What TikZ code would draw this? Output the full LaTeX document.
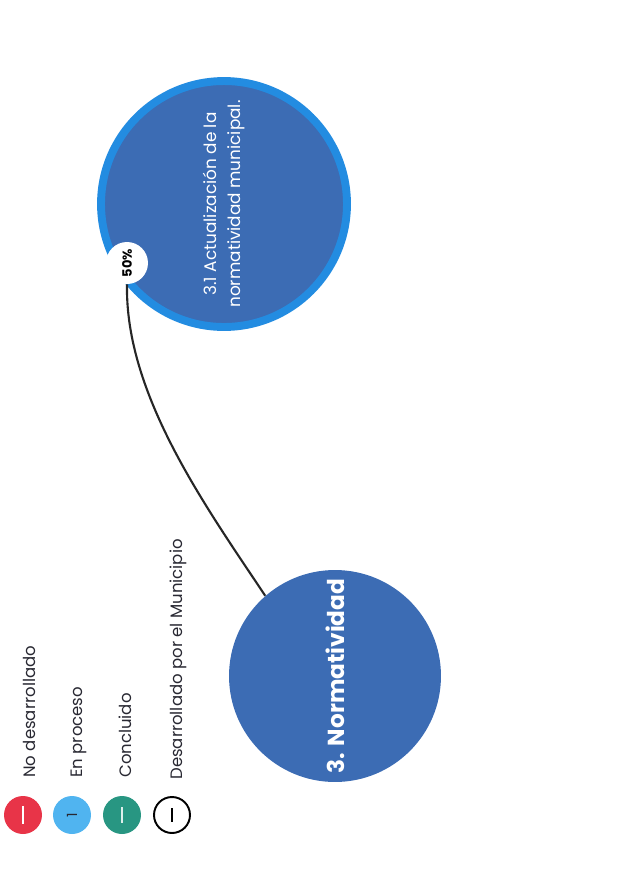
\documentclass[tikz,border=0pt]{standalone}
\usepackage{graphicx}
\usepackage{fontspec}
\setmainfont{Poppins}

\definecolor{noRed}{RGB}{232,52,72}
\definecolor{procBlue}{RGB}{80,180,240}
\definecolor{doneTeal}{RGB}{40,150,130}
\definecolor{normBlue}{RGB}{60,108,180}
\definecolor{ringBlue}{RGB}{35,140,225}
\definecolor{legInk}{RGB}{40,40,50}

\begin{document}
\begin{tikzpicture}[x=0.02cm,y=-0.02cm,
    legdot/.style={circle,minimum size=0.76cm,inner sep=0pt},
    legtext/.style={rotate=90,anchor=base west,inner sep=0pt,font=\fontsize{9.4}{11}\selectfont,text=legInk},
    link/.style={line width=1.2pt,black!85}]
    \useasboundingbox (0,0) rectangle (621,870);

    % Legend
    \node[legdot,fill=noRed] (noDev) at (23,815) {};
    \node[legdot,fill=procBlue] (inProc) at (72,815) {\rotatebox{90}{\fontsize{8}{8}\selectfont\color{legInk}1}};
    \node[legdot,fill=doneTeal] (done) at (122,815) {};
    \node[legdot,draw=black,line width=1.1pt,minimum size=0.72cm] (byTown) at (172,815) {};
    \draw[white,line width=1.1pt] (23,806) -- (23,824);
    \draw[white!85!doneTeal,line width=1.1pt] (122,807) -- (122,823);
    \draw[black,line width=0.9pt] (172,808) -- (172,822);

    \node[legtext] (noDevText) at (35,778) {No desarrollado};
    \node[legtext] (inProcText) at (82,778) {En proceso};
    \node[legtext] (doneText) at (132,778) {Concluido};
    \node[legtext] (byTownText) at (182,780) {Desarrollado por el Municipio};

    % Main topic
    \node[circle,fill=normBlue,minimum size=4.24cm,inner sep=0pt,text=white] (norma) at (335,676)
        {\rotatebox{90}{\bfseries\fontsize{13.2}{16}\selectfont 3. Normatividad}};

    % Sub topic with progress
    \node[circle,fill=normBlue,draw=ringBlue,line width=4.5pt,minimum size=4.92cm,inner sep=0pt,text=white] (act) at (224,204)
        {\rotatebox{90}{\fontsize{9.6}{13.5}\selectfont\begin{tabular}{@{}c@{}}3.1 Actualización de la\\normatividad municipal.\end{tabular}}};
    \node[circle,fill=white,minimum size=0.84cm,inner sep=0pt] (pct) at (127,263)
        {\rotatebox{90}{\bfseries\fontsize{7.4}{8}\selectfont 50\%}};

    \draw[link] (pct.south) .. controls +(-2,110) and +(-60,-90) .. (norma.131);
\end{tikzpicture}
\end{document}
